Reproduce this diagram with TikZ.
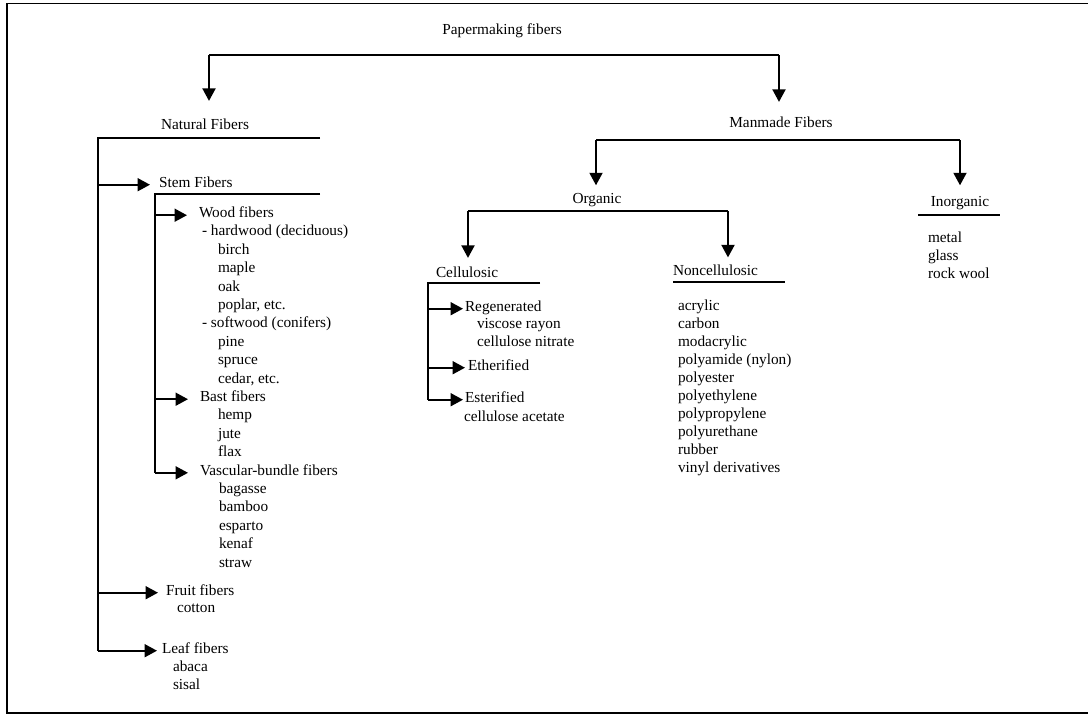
\documentclass[tikz,border=0pt]{standalone}
\usepackage{fontspec}
\setmainfont{Liberation Serif}
\usetikzlibrary{arrows.meta}
\begin{document}
\begin{tikzpicture}[x=1pt,y=-1pt,
  ln/.style={line width=1.9pt},
  arr/.style={ln,-{Triangle[length=12.5pt,width=13pt]}},
  lbl/.style={inner sep=0pt,outer sep=0pt,anchor=base west,font=\fontsize{15.3}{18.4}\selectfont},
  ctr/.style={lbl,anchor=base}]
\useasboundingbox (0,0) rectangle (1088,716);
% frame
\draw[line width=1.6pt] (1088,3.5) -- (7,3.5) -- (7,713) -- (1088,713);

% main headings
\node[ctr] (pf) at (502,34) {Papermaking fibers};
\node[ctr] (nat) at (205,129) {Natural Fibers};
\node[ctr] (man) at (781,127) {Manmade Fibers};
\node[ctr] (org) at (597,203) {Organic};
\node[ctr] (inorg) at (960,206) {Inorganic};
\node[lbl] (cell) at (436,277) {Cellulosic};
\node[lbl] (noncell) at (673,275) {Noncellulosic};

% top split
\coordinate (tL) at (209,55);
\coordinate (tR) at (779,55);
\draw[ln] (tL) -- (tR);
\draw[arr,shorten >=17.5pt] (tL) -- (tL |- nat.north);
\draw[arr,shorten >=14.5pt] (tR) -- (tR |- man.north);

% manmade split
\coordinate (mL) at (596,140);
\coordinate (mR) at (960,140);
\draw[ln] (mL) -- (mR);
\draw[arr,shorten >=7.6pt] (mL) -- (mL |- org.north);
\draw[arr,shorten >=10.6pt] (mR) -- (mR |- inorg.north);

% organic split
\coordinate (oL) at (468,211);
\coordinate (oR) at (728,211);
\draw[ln] (oL) -- (oR);
\draw[arr,shorten >=8.5pt] (oL) -- (oL |- cell.north);
\draw[arr,shorten >=7pt] (oR) -- (oR |- noncell.north);

% natural fibers tree
\node[lbl] (stem) at (159,187) {Stem Fibers};
\node[lbl] (wood) at (199,217.5) {Wood fibers};
\node[lbl] (hard) at (202,235.9) {- hardwood (deciduous)};
\foreach \t [count=\i from 0] in {birch,maple,oak,{poplar, etc.}}
  \node[lbl] (hw\i) at (218,254.3+18.4*\i) {\t};
\node[lbl] (soft) at (202,327.9) {- softwood (conifers)};
\foreach \t [count=\i from 0] in {pine,spruce,{cedar, etc.}}
  \node[lbl] (sw\i) at (218,346.3+18.4*\i) {\t};
\node[lbl] (bast) at (200,401.5) {Bast fibers};
\foreach \t [count=\i from 0] in {hemp,jute,flax}
  \node[lbl] (bf\i) at (218,419.9+18.4*\i) {\t};
\node[lbl] (vasc) at (200,475.1) {Vascular-bundle fibers};
\foreach \t [count=\i from 0] in {bagasse,bamboo,esparto,kenaf,straw}
  \node[lbl] (vb\i) at (219,493.5+18.4*\i) {\t};
\node[lbl] (fruit) at (166,595) {Fruit fibers};
\node[lbl] (cotton) at (177,612) {cotton};
\node[lbl] (leaf) at (162,653) {Leaf fibers};
\node[lbl] (abaca) at (173,671) {abaca};
\node[lbl] (sisal) at (173,689) {sisal};

\coordinate (nL) at (98,138);
\coordinate (nR) at (320,138);
\draw[ln] (nR) -- (nL) -- (nL |- leaf.mid west);
\draw[arr,shorten >=9pt] (nL |- stem.mid west) -- (stem.mid west);
\draw[arr,shorten >=8pt] (nL |- fruit.mid west) -- (fruit.mid west);
\draw[arr,shorten >=5pt] (nL |- leaf.mid west) -- (leaf.mid west);

\coordinate (sL) at (155,194);
\coordinate (sR) at (320,194);
\draw[ln] (sR) -- (sL) -- (sL |- vasc.mid west);
\draw[arr,shorten >=12pt] (sL |- wood.mid west) -- (wood.mid west);
\draw[arr,shorten >=12pt] (sL |- bast.mid west) -- (bast.mid west);
\draw[arr,shorten >=12pt] (sL |- vasc.mid west) -- (vasc.mid west);

% cellulosic tree
\node[lbl] (regen) at (465,311) {Regenerated};
\node[lbl] (visc) at (477,328) {viscose rayon};
\node[lbl] (nitr) at (477,346) {cellulose nitrate};
\node[lbl] (ether) at (468,370) {Etherified};
\node[lbl] (ester) at (465,402) {Esterified};
\node[lbl] (acet) at (464,421) {cellulose acetate};

\coordinate (cL) at (428,283);
\coordinate (cR) at (540,283);
\draw[ln] (cR) -- (cL) -- (cL |- ester.mid west);
\draw[arr,shorten >=2pt] (cL |- regen.mid west) -- (regen.mid west);
\draw[arr,shorten >=3pt] (cL |- ether.mid west) -- (ether.mid west);
\draw[arr,shorten >=2pt] (cL |- ester.mid west) -- (ester.mid west);

% noncellulosic
\coordinate (ncL) at (673,282);
\coordinate (ncR) at (785,282);
\draw[ln] (ncL) -- (ncR);
\foreach \t [count=\i from 0] in {acrylic,carbon,modacrylic,polyamide (nylon),polyester,polyethylene,polypropylene,polyurethane,rubber,vinyl derivatives}
  \node[lbl] (nc\i) at (678,310.7+18*\i) {\t};

% inorganic
\coordinate (iL) at (918,215);
\coordinate (iR) at (1000,215);
\draw[ln] (iL) -- (iR);
\foreach \t [count=\i from 0] in {metal,glass,rock wool}
  \node[lbl] (in\i) at (928,242+18.4*\i) {\t};
\end{tikzpicture}
\end{document}
